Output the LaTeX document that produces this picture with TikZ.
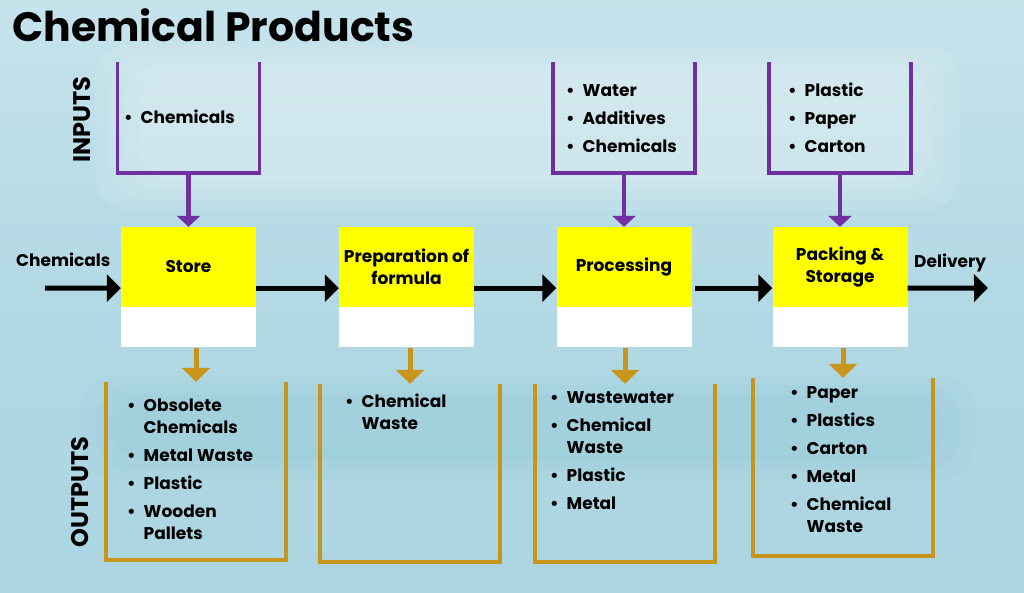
\documentclass[tikz,border=0pt]{standalone}
\usepackage{fontspec}
\setmainfont{Poppins}
\usetikzlibrary{arrows.meta,positioning}

\definecolor{bgtop}{HTML}{C6E3EC}
\definecolor{bgmid}{HTML}{B2D9E4}
\definecolor{bgbot}{HTML}{ABD5E1}
\definecolor{bgdark}{HTML}{8CC4D6}
\definecolor{inpurple}{HTML}{7030A0}
\definecolor{outgold}{HTML}{C8951A}
\definecolor{boxyellow}{HTML}{FFFF00}

\newcommand{\itemlist}[1]{\begin{tabular}[t]{@{}l@{\hspace{8pt}}l@{}}#1\end{tabular}}

\tikzset{
  txt/.style={font=\bfseries\fontsize{17}{22}\selectfont, inner sep=0pt},
  steplabel/.style={txt, fill=boxyellow, minimum width=135pt, minimum height=80pt, align=center},
  stepbase/.style={fill=white, minimum width=135pt, minimum height=40pt, inner sep=0pt},
  inbin/.style={minimum width=142pt, minimum height=111pt, inner sep=0pt},
  outbin/.style={minimum width=180pt, minimum height=178pt, inner sep=0pt},
  inline/.style={draw=inpurple, line width=3.5pt},
  outline/.style={draw=outgold, line width=4pt},
  flow/.style={line width=5pt, -{Triangle[length=14pt,width=27pt]}},
  inflow/.style={draw=inpurple, line width=4.5pt, -{Triangle[length=11pt,width=23pt]}},
  outflow/.style={draw=outgold, line width=5pt, -{Triangle[length=14pt,width=28pt]}},
  sidelabel/.style={font=\bfseries\fontsize{24}{24}\selectfont, rotate=90, inner sep=0pt},
  glow/.style={white, opacity=0.09, rounded corners=35pt},
  shadow/.style={bgdark, opacity=0.12, rounded corners=35pt}
}

\begin{document}
\begin{tikzpicture}[x=1pt, y=-1pt]
  % background
  \shade[top color=bgtop, bottom color=bgbot, middle color=bgmid] (0,0) rectangle (1024,593);
  \fill[glow] (95,45) rectangle (960,210);
  \fill[glow] (110,55) rectangle (945,200);
  \fill[glow] (125,65) rectangle (930,190);
  \fill[glow] (140,75) rectangle (915,180);
  \fill[shadow] (80,375) rectangle (975,480);
  \fill[shadow] (95,385) rectangle (960,470);
  \fill[shadow] (110,395) rectangle (945,460);
  \useasboundingbox (0,0) rectangle (1024,593);

  \node[anchor=base west, inner sep=0pt, font=\bfseries\fontsize{41}{41}\selectfont] (title) at (12,42) {Chemical Products};

  % process steps
  \node[steplabel] (store) at (188.5,267) {Store};
  \node[stepbase, below=0pt of store] (store_b) {};
  \node[steplabel] (prep) at (406.5,267) {Preparation of\\formula};
  \node[stepbase, below=0pt of prep] (prep_b) {};
  \node[steplabel] (proc) at (624,267) {Processing};
  \node[stepbase, below=0pt of proc] (proc_b) {};
  \node[steplabel] (pack) at (840,267) {Packing \&\\Storage};
  \node[stepbase, below=0pt of pack] (pack_b) {};

  \node[txt, anchor=base west] (chem_lbl) at (16,267) {Chemicals};
  \node[txt, anchor=base west] (deliv_lbl) at (914,268) {Delivery};
  \coordinate (chem_in) at (45,288);
  \coordinate (deliv_out) at (988,288);

  \draw[flow] (chem_in) -- ([yshift=19pt]store.south west);
  \draw[flow] ([yshift=19pt]store.south east) -- ([yshift=19pt]prep.south west);
  \draw[flow] ([yshift=19pt]prep.south east) -- ([yshift=19pt]proc.south west);
  \draw[flow] ([yshift=19pt,xshift=3pt]proc.south east) -- ([yshift=19pt]pack.south west);
  \draw[flow] ([yshift=19pt]pack.south east) -- (deliv_out);

  % inputs
  \node[sidelabel] (inputs) at (82,120) {INPUTS};
  \node[inbin] (in_store) at (188.5,117.5) {};
  \node[inbin] (in_proc) at (624,117.5) {};
  \node[inbin] (in_pack) at (840,117.5) {};
  \draw[inline] (in_store.north west) |- (in_store.south east) -- (in_store.north east);
  \draw[inline] (in_proc.north west) |- (in_proc.south east) -- (in_proc.north east);
  \draw[inline] (in_pack.north west) |- (in_pack.south east) -- (in_pack.north east);
  \node[txt, anchor=base west] (in_store_txt) at (124,124) {\itemlist{\textbullet & Chemicals}};
  \node[txt, anchor=base west] (in_proc_txt) at (566,97) {\itemlist{\textbullet & Water\\[6pt] \textbullet & Additives\\[6pt] \textbullet & Chemicals}};
  \node[txt, anchor=base west] (in_pack_txt) at (788,97) {\itemlist{\textbullet & Plastic\\[6pt] \textbullet & Paper\\[6pt] \textbullet & Carton}};
  \draw[inflow] (in_store.south) -- (store.north);
  \draw[inflow] (in_proc.south) -- (proc.north);
  \draw[inflow] (in_pack.south) -- (pack.north);

  % outputs
  \node[sidelabel] (outputs) at (80,492) {OUTPUTS};
  \node[outbin] (out_store) at (196,471) {};
  \node[outbin] (out_prep) at (410,473) {};
  \node[outbin] (out_proc) at (625,473) {};
  \node[outbin] (out_pack) at (843,467) {};
  \draw[outline] (out_store.north west) |- (out_store.south east) -- (out_store.north east);
  \draw[outline] (out_prep.north west) |- (out_prep.south east) -- (out_prep.north east);
  \draw[outline] (out_proc.north west) |- (out_proc.south east) -- (out_proc.north east);
  \draw[outline] (out_pack.north west) |- (out_pack.south east) -- (out_pack.north east);
  \node[txt, anchor=base west] (out_store_txt) at (127,411) {\itemlist{\textbullet & Obsolete\\ & Chemicals\\[6pt] \textbullet & Metal Waste\\[6pt] \textbullet & Plastic\\[6pt] \textbullet & Wooden\\ & Pallets}};
  \node[txt, anchor=base west] (out_prep_txt) at (345,407) {\itemlist{\textbullet & Chemical\\ & Waste}};
  \node[txt, anchor=base west] (out_proc_txt) at (550,403) {\itemlist{\textbullet & Wastewater\\[6pt] \textbullet & Chemical\\ & Waste\\[6pt] \textbullet & Plastic\\[6pt] \textbullet & Metal}};
  \node[txt, anchor=base west] (out_pack_txt) at (790,398) {\itemlist{\textbullet & Paper\\[6pt] \textbullet & Plastics\\[6pt] \textbullet & Carton\\[6pt] \textbullet & Metal\\[6pt] \textbullet & Chemical\\ & Waste}};
  \draw[outflow] (out_store.north |- store_b.south) -- (out_store.north);
  \draw[outflow] (out_prep.north |- prep_b.south) -- (out_prep.north);
  \draw[outflow] (out_proc.north |- proc_b.south) -- (out_proc.north);
  \draw[outflow] (out_pack.north |- pack_b.south) -- (out_pack.north);
\end{tikzpicture}
\end{document}
